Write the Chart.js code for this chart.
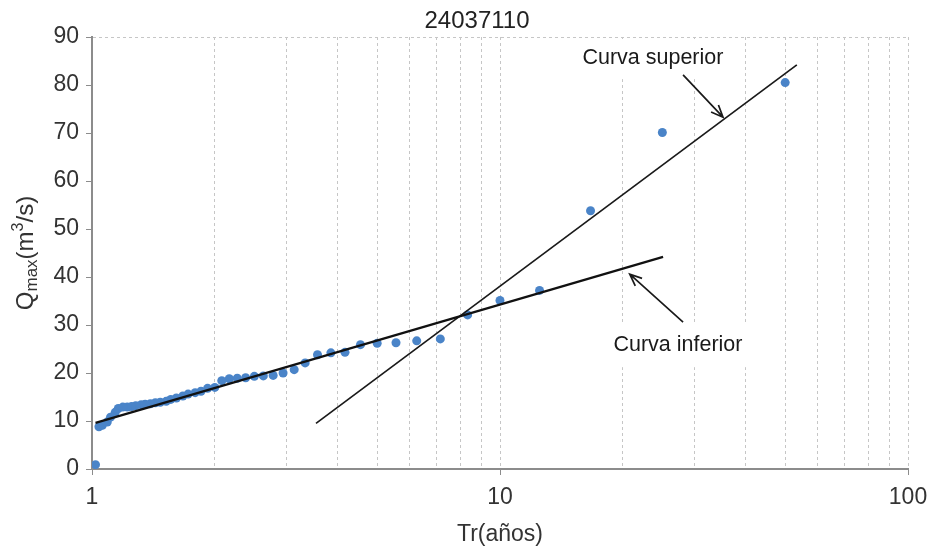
<!DOCTYPE html>
<html>
<head>
<meta charset="utf-8">
<script src="https://cdn.jsdelivr.net/npm/chart.js@4.4.1/dist/chart.umd.min.js"></script>
<style>
  html, body { margin: 0; padding: 0; background: #fff; }
  #wrap { width: 930px; height: 550px; }
</style>
</head>
<body>
<div id="wrap"><canvas id="qmaxChart" width="930" height="550"></canvas></div>
<script>
// Station 24037110: ranked annual peak flows against return period
var stationCode = "24037110";

var returnPeriods = [50, 25, 16.67, 12.5, 10, 8.33, 7.14, 6.25, 5.56, 5,
                     4.55, 4.17, 3.85, 3.57, 3.33, 3.13, 2.94, 2.78, 2.63, 2.5,
                     2.38, 2.27, 2.17, 2.08, 2, 1.92, 1.85, 1.79, 1.72, 1.67,
                     1.61, 1.56, 1.52, 1.47, 1.43, 1.39, 1.35, 1.32, 1.28, 1.25,
                     1.22, 1.19, 1.16, 1.14, 1.11, 1.09, 1.06, 1.04, 1.02];
var peakFlows = [80.5, 70.1, 53.8, 37.2, 35.1, 32.1, 27.1, 26.7, 26.3, 26.2,
                 25.9, 24.3, 24.2, 23.8, 22.1, 20.7, 20.0, 19.5, 19.4, 19.3,
                 19.0, 18.9, 18.8, 18.4, 17.0, 16.8, 16.2, 15.9, 15.6, 15.2,
                 14.8, 14.5, 14.1, 13.9, 13.8, 13.6, 13.5, 13.4, 13.2, 13.0,
                 12.9, 12.9, 12.6, 11.8, 10.8, 9.8, 9.1, 8.8, 0.9];

// fitted curves (end points)
var upperCurveTr = [3.54, 53.4];
var upperCurveQ = [9.5, 84.2];
var lowerCurveTr = [1.02, 25.1];
var lowerCurveQ = [9.6, 44.2];

var xGridTicks = [1, 2, 3, 4, 5, 6, 7, 8, 9, 10, 20, 30, 40, 50, 60, 70, 80, 90, 100];
var xTickLabels = [1, 10, 100];
var yMin = 0, yMax = 90, yStep = 10;

function toPoints(xs, ys) {
	var pts = [];
	for (var i = 0; i < xs.length; i++) pts.push({x: xs[i], y: ys[i]});
	return pts;
}

var FONT = "'Liberation Sans', Arial, sans-serif";
var AXIS_GRAY = '#8c8c8c';
var GRID_GRAY = '#c6c6c6';

// text boxes with arrows pointing at each curve
var curveNotes = [
	{text: 'Curva superior', at: [23.7, 85.6], halfW: 80, halfH: 21, from: [28.1, 82.1], to: [35.2, 73.3]},
	{text: 'Curva inferior', at: [27.3, 25.8], halfW: 75, halfH: 22, from: [28.1, 30.6], to: [20.8, 40.6]}
];

var notesPlugin = {
	id: 'curveNotes',
	afterDatasetsDraw: function(chart) {
		var ctx = chart.ctx, xs = chart.scales.x, ys = chart.scales.y;
		ctx.save();
		curveNotes.forEach(function(n) {
			var cx = xs.getPixelForValue(n.at[0]), cy = ys.getPixelForValue(n.at[1]);
			var top = Math.max(cy - n.halfH, chart.chartArea.top + 2);
			ctx.fillStyle = '#fff';
			ctx.fillRect(cx - n.halfW, top, n.halfW * 2, cy + n.halfH - top);
			ctx.fillStyle = '#1a1a1a';
			ctx.font = '21.5px ' + FONT;
			ctx.textAlign = 'center';
			ctx.textBaseline = 'middle';
			ctx.fillText(n.text, cx, cy);

			var x1 = xs.getPixelForValue(n.from[0]), y1 = ys.getPixelForValue(n.from[1]);
			var x2 = xs.getPixelForValue(n.to[0]), y2 = ys.getPixelForValue(n.to[1]);
			var ang = Math.atan2(y2 - y1, x2 - x1), head = 13, spread = 0.4;
			ctx.strokeStyle = '#1a1a1a';
			ctx.lineWidth = 1.7;
			ctx.beginPath();
			ctx.moveTo(x1, y1);
			ctx.lineTo(x2, y2);
			ctx.moveTo(x2 - head * Math.cos(ang - spread), y2 - head * Math.sin(ang - spread));
			ctx.lineTo(x2, y2);
			ctx.lineTo(x2 - head * Math.cos(ang + spread), y2 - head * Math.sin(ang + spread));
			ctx.stroke();
		});
		ctx.restore();
	}
};

// title and y axis title (needs sub/superscript)
var titlesPlugin = {
	id: 'titles',
	afterDraw: function(chart) {
		var ctx = chart.ctx, area = chart.chartArea;
		ctx.save();
		ctx.fillStyle = '#222';
		ctx.font = '24px ' + FONT;
		ctx.textAlign = 'center';
		ctx.textBaseline = 'middle';
		ctx.fillText(stationCode, 477, 21);

		var parts = [
			{t: 'Q', size: 24, dy: 0},
			{t: 'max', size: 17, dy: 6},
			{t: '(m', size: 24, dy: 0},
			{t: '3', size: 16, dy: -7},
			{t: '/s)', size: 24, dy: 0}
		];
		var total = 0;
		parts.forEach(function(p) {
			ctx.font = p.size + 'px ' + FONT;
			p.w = ctx.measureText(p.t).width;
			total += p.w;
		});
		ctx.translate(26, (area.top + area.bottom) / 2);
		ctx.rotate(-Math.PI / 2);
		ctx.textAlign = 'left';
		ctx.fillStyle = '#333';
		var px = -total / 2;
		parts.forEach(function(p) {
			ctx.font = p.size + 'px ' + FONT;
			ctx.fillText(p.t, px, p.dy);
			px += p.w;
		});
		ctx.restore();
	}
};

var ctx = document.getElementById('qmaxChart').getContext('2d');
var qmaxChart = new Chart(ctx, {
	type: 'scatter',
	data: {
		datasets: [
			{
				label: 'Curva inferior',
				data: toPoints(lowerCurveTr, lowerCurveQ),
				showLine: true,
				borderColor: '#111',
				borderWidth: 2.2,
				pointRadius: 0,
				order: 0
			},
			{
				label: 'Curva superior',
				data: toPoints(upperCurveTr, upperCurveQ),
				showLine: true,
				borderColor: '#1a1a1a',
				borderWidth: 1.7,
				pointRadius: 0,
				order: 0
			},
			{
				label: 'Qmax',
				data: toPoints(returnPeriods, peakFlows),
				backgroundColor: '#4a84c8',
				borderColor: '#4a84c8',
				borderWidth: 0,
				pointRadius: 4.5,
				order: 1
			}
		]
	},
	options: {
		responsive: false,
		animation: false,
		devicePixelRatio: 1,
		layout: { padding: { top: 37, right: 22, left: 0, bottom: 0 } },
		plugins: {
			legend: { display: false },
			tooltip: { enabled: false }
		},
		scales: {
			x: {
				type: 'logarithmic',
				min: 1,
				max: 100,
				afterBuildTicks: function(scale) {
					scale.ticks = xGridTicks.map(function(v) {
						return {value: v, major: xTickLabels.indexOf(v) >= 0};
					});
				},
				afterFit: function(scale) {
					scale.height = 81;
					scale.paddingRight = 0;
				},
				ticks: {
					autoSkip: false,
					maxRotation: 0,
					padding: 9,
					color: '#333',
					font: { family: FONT, size: 23 },
					callback: function(v) { return xTickLabels.indexOf(v) >= 0 ? String(v) : ''; }
				},
				grid: {
					color: function(c) { return c.tick && c.tick.value === 1 ? 'rgba(0,0,0,0)' : GRID_GRAY; },
					tickColor: function(c) { return c.tick && xTickLabels.indexOf(c.tick.value) >= 0 ? AXIS_GRAY : 'rgba(0,0,0,0)'; },
					tickLength: 6,
					lineWidth: 1
				},
				border: { color: AXIS_GRAY, width: 2, dash: [3, 3] },
				title: {
					display: true,
					text: 'Tr(años)',
					color: '#333',
					font: { family: FONT, size: 23 },
					padding: { top: 0, bottom: 2 }
				}
			},
			y: {
				min: yMin,
				max: yMax,
				afterFit: function(scale) { scale.width = 92; },
				ticks: {
					stepSize: yStep,
					padding: 7,
					color: '#333',
					font: { family: FONT, size: 23 }
				},
				grid: {
					color: function(c) { return c.tick && c.tick.value === yMax ? GRID_GRAY : 'rgba(0,0,0,0)'; },
					tickColor: AXIS_GRAY,
					tickLength: 6,
					lineWidth: 1
				},
				border: { color: AXIS_GRAY, width: 2, dash: [3, 3] }
			}
		}
	},
	plugins: [notesPlugin, titlesPlugin]
});
</script>
</body>
</html>
